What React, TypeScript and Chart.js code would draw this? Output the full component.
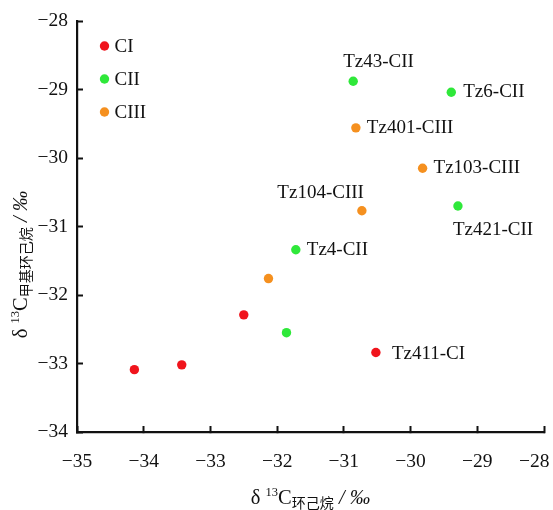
import { useEffect, useRef } from 'react';
import { Chart, registerables } from 'chart.js';

Chart.register(...registerables);

// ---- data ----
const SERIES_NAMES = ['CI', 'CII', 'CIII'];

const ciX = [-34.14, -33.43, -32.5, -30.52];
const ciY = [-33.09, -33.02, -32.29, -32.84];
const ciLabels = ['', '', '', 'Tz411-CI'];

const ciiX = [-31.72, -31.86, -30.86, -29.39, -29.29];
const ciiY = [-31.34, -32.55, -28.88, -29.04, -30.7];
const ciiLabels = ['Tz4-CII', '', 'Tz43-CII', 'Tz6-CII', 'Tz421-CII'];

const ciiiX = [-32.13, -30.82, -29.82, -30.73];
const ciiiY = [-31.76, -29.56, -30.15, -30.77];
const ciiiLabels = ['', 'Tz401-CIII', 'Tz103-CIII', 'Tz104-CIII'];

const X_MIN = -35;
const X_MAX = -28;
const Y_MIN = -34;
const Y_MAX = -28;

const X_TITLE_SUB = '环己烷';
const Y_TITLE_SUB = '甲基环己烷';

// ---- styles ----
const COLORS = ['#f0141c', '#2fe83a', '#f5901f'];
const SERIF = '"Liberation Serif", "Times New Roman", "Noto Sans CJK SC", serif';
const CJK = '"Noto Sans CJK SC", "Liberation Serif", serif';
const TEXT = '#111';

const LABEL_PLACEMENT: Record<string, { dx: number; dy: number; align: CanvasTextAlign }> = {
  'Tz43-CII': { dx: -10, dy: -19, align: 'left' },
  'Tz104-CIII': { dx: 2, dy: -18, align: 'right' },
  'Tz421-CII': { dx: -5, dy: 24, align: 'left' },
  'Tz411-CI': { dx: 16, dy: 1, align: 'left' },
  'Tz6-CII': { dx: 12, dy: 0, align: 'left' },
};

const allLabels = [ciLabels, ciiLabels, ciiiLabels];

const fmt = (v: number) => (v < 0 ? '\u2212' + Math.abs(v) : String(v));

type Seg = { t: string; size: number; dy?: number; italic?: boolean; cjk?: boolean };

function drawRich(ctx: CanvasRenderingContext2D, segs: Seg[]) {
  const fontOf = (s: Seg) =>
    `${s.italic ? 'italic ' : ''}${s.size}px ${s.cjk ? CJK : SERIF}`;
  let total = 0;
  const widths = segs.map((s) => {
    ctx.font = fontOf(s);
    const w = ctx.measureText(s.t).width;
    total += w;
    return w;
  });
  let x = -total / 2;
  ctx.textAlign = 'left';
  ctx.textBaseline = 'alphabetic';
  ctx.fillStyle = TEXT;
  segs.forEach((s, i) => {
    ctx.font = fontOf(s);
    ctx.fillText(s.t, x, s.dy || 0);
    x += widths[i];
  });
}

function titleSegs(sub: string): Seg[] {
  return [
    { t: 'δ ', size: 20.5 },
    { t: '13', size: 12.5, dy: -8 },
    { t: 'C', size: 20.5 },
    { t: sub, size: 14, dy: 4 },
    { t: ' / ', size: 20.5, italic: true },
    { t: '‰', size: 20.5, italic: true },
  ].map((s) => (s.t === sub ? { ...s, cjk: true } : s));
}

const annotationsPlugin = {
  id: 'annotations',
  afterDatasetsDraw(chart: any) {
    const ctx: CanvasRenderingContext2D = chart.ctx;
    const area = chart.chartArea;
    ctx.save();
    // point labels
    ctx.font = `19px ${SERIF}`;
    ctx.fillStyle = TEXT;
    ctx.textBaseline = 'middle';
    chart.data.datasets.forEach((_ds: any, di: number) => {
      const meta = chart.getDatasetMeta(di);
      meta.data.forEach((el: any, i: number) => {
        const label = allLabels[di][i];
        if (!label) return;
        const p = LABEL_PLACEMENT[label] || { dx: 11, dy: 0, align: 'left' as CanvasTextAlign };
        ctx.textAlign = p.align;
        ctx.fillText(label, el.x + p.dx, el.y + p.dy);
      });
    });
    // legend inside plot
    SERIES_NAMES.forEach((name, i) => {
      const cx = area.left + 27.5;
      const cy = area.top + 25 + i * 33;
      ctx.beginPath();
      ctx.arc(cx, cy, 4.7, 0, Math.PI * 2);
      ctx.fillStyle = COLORS[i];
      ctx.fill();
      ctx.fillStyle = TEXT;
      ctx.font = `19px ${SERIF}`;
      ctx.textAlign = 'left';
      ctx.textBaseline = 'middle';
      ctx.fillText(name, cx + 10, cy + 1);
    });
    // x title
    ctx.save();
    ctx.translate((area.left + area.right) / 2, chart.height - 6.5);
    drawRich(ctx, titleSegs(X_TITLE_SUB));
    ctx.restore();
    // y title
    ctx.save();
    ctx.translate(27, (area.top + area.bottom) / 2 + 38);
    ctx.rotate(-Math.PI / 2);
    drawRich(ctx, titleSegs(Y_TITLE_SUB));
    ctx.restore();
    ctx.restore();
  },
};

export default function App() {
  const ref = useRef<HTMLCanvasElement | null>(null);

  useEffect(() => {
    if (!ref.current) return;
    const mk = (xs: number[], ys: number[]) => xs.map((x, i) => ({ x, y: ys[i] }));
    const chart = new Chart(ref.current, {
      type: 'scatter',
      data: {
        datasets: [
          { label: SERIES_NAMES[0], data: mk(ciX, ciY) },
          { label: SERIES_NAMES[1], data: mk(ciiX, ciiY) },
          { label: SERIES_NAMES[2], data: mk(ciiiX, ciiiY) },
        ].map((d, i) => ({
          ...d,
          backgroundColor: COLORS[i],
          borderColor: COLORS[i],
          borderWidth: 0,
          pointRadius: 4.7,
          pointHoverRadius: 4.7,
        })),
      },
      options: {
        responsive: false,
        animation: false,
        devicePixelRatio: 1,
        layout: { padding: { left: 0, top: 21, right: 9, bottom: 0 } },
        plugins: { legend: { display: false }, tooltip: { enabled: false } },
        events: [],
        scales: {
          x: {
            type: 'linear',
            min: X_MIN,
            max: X_MAX,
            afterFit: (s: any) => {
              s.height = 78;
              s.paddingLeft = 0;
              s.paddingRight = 0;
            },
            ticks: {
              stepSize: 1,
              padding: 24,
              color: TEXT,
              font: { family: SERIF, size: 19.5 },
              maxRotation: 0,
              callback: (v: any) => fmt(Number(v)) + (Number(v) === X_MAX ? '\u2003' : ''),
            },
            grid: {
              drawOnChartArea: false,
              drawTicks: true,
              tickLength: -6,
              tickWidth: 2,
              tickColor: '#111',
            },
            border: { display: true, color: '#111', width: 2.2 },
          },
          y: {
            type: 'linear',
            min: Y_MIN,
            max: Y_MAX,
            afterFit: (s: any) => {
              s.width = 77;
              s.paddingTop = 0;
              s.paddingBottom = 0;
            },
            ticks: {
              stepSize: 1,
              padding: 15,
              color: TEXT,
              font: { family: SERIF, size: 19.5 },
              callback: (v: any) => fmt(Number(v)),
            },
            grid: {
              drawOnChartArea: false,
              drawTicks: true,
              tickLength: -6,
              tickWidth: 2,
              tickColor: '#111',
            },
            border: { display: true, color: '#111', width: 2.2 },
          },
        },
      },
      plugins: [annotationsPlugin],
    } as any);
    return () => chart.destroy();
  }, []);

  return (
    <div style={{ position: 'fixed', left: 0, top: 0, width: 553, height: 510, background: '#fff' }}>
      <canvas ref={ref} width={553} height={510} style={{ width: 553, height: 510, display: 'block' }} />
    </div>
  );
}
